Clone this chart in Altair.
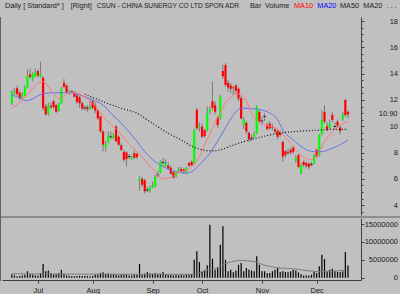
import altair as alt
import pandas as pd

# ---------------- data ----------------
opens = [11.75, 12.55, 12.90, 12.55, 12.20, 12.35, 13.00, 13.95, 13.60, 13.80,
         14.20, 13.80, 13.70, 11.50, 10.95, 11.55, 11.90, 11.60, 11.20, 11.75,
         13.30, 13.10, 12.55, 12.60, 12.55, 12.35, 12.20, 11.75, 11.40, 11.45,
         11.30, 11.90, 11.60, 11.20, 10.75, 9.60, 8.40, 8.80, 9.20, 9.15,
         9.97, 9.20, 8.55, 8.05, 8.00, 7.70, 7.50, 7.95, 7.90, 5.85,
         6.00, 5.90, 5.15, 5.10, 5.35, 5.40, 6.30, 6.45, 7.25, 6.95,
         7.00, 6.85, 6.50, 6.15, 6.60, 6.75, 6.70, 6.50, 7.20, 7.30,
         7.20, 11.25, 9.85, 9.97, 9.70, 9.70, 11.10, 11.90, 11.60, 10.65,
         10.60, 14.20, 14.65, 13.30, 13.10, 12.95, 13.10, 12.85, 12.15, 10.10,
         10.25, 9.50, 9.10, 9.20, 9.47, 11.10, 10.40, 10.75, 10.10, 10.20,
         9.97, 9.75, 9.64, 9.55, 8.80, 8.10, 8.05, 8.20, 8.37, 7.37,
         7.80, 6.45, 7.30, 7.20, 7.15, 7.10, 7.20, 8.20, 7.80, 9.40,
         11.10, 10.00, 9.90, 10.86, 9.98, 10.35, 9.90, 10.55, 12.00, 11.10]
closes = [12.60, 12.65, 12.45, 12.15, 12.40, 13.00, 13.85, 13.75, 13.95, 14.10,
          13.85, 14.00, 11.40, 10.90, 11.60, 11.45, 11.45, 11.10, 11.70, 12.85,
          13.00, 12.60, 12.65, 12.60, 12.25, 11.85, 11.75, 11.35, 11.40, 11.30,
          11.50, 11.40, 11.20, 10.60, 9.60, 8.60, 8.65, 9.30, 9.20, 9.35,
          8.85, 8.60, 8.20, 7.45, 7.50, 7.70, 7.65, 7.60, 7.65, 6.05,
          5.55, 5.05, 5.15, 5.30, 5.50, 6.15, 6.30, 7.30, 7.25, 7.20,
          6.80, 6.40, 6.10, 6.50, 6.75, 6.60, 6.55, 6.80, 7.00, 7.05,
          9.70, 9.85, 10.00, 9.20, 9.25, 11.00, 11.30, 11.40, 11.10, 10.10,
          12.25, 13.80, 13.15, 12.95, 12.85, 12.90, 12.70, 12.10, 10.60, 10.50,
          9.60, 9.00, 9.10, 9.40, 11.50, 10.35, 10.40, 10.75, 9.80, 9.85,
          9.90, 9.60, 9.20, 9.35, 7.70, 7.80, 7.95, 8.00, 8.07, 7.60,
          6.90, 7.05, 7.05, 7.00, 6.90, 7.10, 7.80, 7.70, 9.34, 10.50,
          10.35, 9.75, 10.20, 10.48, 9.98, 10.05, 9.64, 10.90, 10.86, 10.90]
highs = [12.75, 12.90, 13.10, 12.70, 12.60, 13.10, 14.30, 14.40, 14.10, 14.40,
         14.30, 14.90, 13.80, 11.70, 11.80, 11.80, 12.00, 11.70, 11.80, 13.00,
         13.60, 13.20, 12.80, 12.75, 12.70, 12.50, 12.30, 11.90, 11.60, 11.60,
         12.00, 12.10, 11.80, 11.30, 10.80, 9.70, 8.90, 9.60, 9.60, 9.50,
         10.10, 9.30, 8.70, 8.20, 8.10, 7.90, 7.80, 8.15, 8.00, 6.20,
         6.15, 6.00, 5.40, 5.50, 5.80, 6.30, 6.60, 7.40, 7.60, 7.50,
         7.30, 7.00, 6.60, 6.60, 6.90, 6.90, 6.85, 6.90, 7.30, 7.40,
         9.80, 11.40, 10.30, 10.20, 9.80, 11.50, 11.50, 13.40, 11.90, 10.80,
         12.40, 14.70, 14.80, 13.50, 13.30, 13.10, 13.20, 12.95, 12.30, 10.70,
         10.40, 9.60, 9.40, 9.60, 11.60, 11.20, 10.70, 11.00, 10.30, 10.40,
         10.20, 9.90, 9.80, 9.70, 8.90, 8.20, 8.30, 8.40, 8.50, 7.80,
         7.90, 7.20, 7.40, 7.30, 7.25, 7.30, 7.90, 8.30, 9.40, 11.20,
         11.60, 10.30, 10.50, 11.10, 10.30, 10.50, 10.10, 11.10, 12.10, 11.20]
lows = [11.60, 12.40, 12.30, 12.00, 12.10, 12.30, 12.90, 13.60, 13.40, 13.70,
        13.70, 13.70, 11.20, 10.80, 10.80, 11.30, 11.30, 11.00, 11.10, 11.70,
        12.90, 12.50, 12.40, 12.50, 12.20, 11.70, 11.40, 11.20, 11.20, 11.10,
        11.25, 11.30, 11.00, 10.50, 9.50, 8.10, 8.10, 8.70, 9.00, 9.00,
        8.80, 8.50, 8.10, 7.30, 6.95, 7.50, 7.40, 7.50, 7.50, 5.10,
        5.40, 4.90, 5.00, 4.95, 5.30, 5.35, 6.10, 6.40, 7.00, 6.90,
        6.70, 6.30, 6.00, 6.10, 6.50, 6.50, 6.40, 6.40, 6.90, 6.95,
        7.10, 9.70, 9.60, 9.10, 9.10, 9.60, 10.90, 11.20, 10.90, 9.90,
        10.50, 13.60, 13.00, 12.60, 12.50, 12.40, 12.40, 11.90, 10.50, 9.80,
        9.40, 8.80, 8.90, 9.10, 9.40, 10.20, 10.10, 10.40, 9.70, 9.70,
        9.70, 9.40, 9.00, 9.20, 7.30, 7.60, 7.80, 7.85, 7.90, 7.20,
        6.80, 6.30, 6.90, 6.80, 6.70, 6.95, 7.10, 7.60, 7.70, 9.30,
        10.20, 9.60, 9.80, 10.30, 9.80, 9.90, 9.40, 10.40, 10.70, 10.60]
volume_m = [1.0, 0.65, 0.4, 0.5, 0.65, 0.85, 1.8, 1.1, 0.85, 0.65,
            0.65, 1.3, 3.8, 1.8, 2.0, 1.3, 0.85, 1.0, 1.3, 2.2,
            1.1, 0.65, 0.55, 0.5, 0.4, 0.5, 0.55, 0.5, 0.55, 0.5,
            0.4, 0.5, 0.85, 1.0, 1.3, 1.5, 1.0, 1.2, 0.85, 1.0,
            0.85, 0.65, 0.75, 1.0, 0.85, 0.65, 0.65, 0.75, 0.85, 3.8,
            0.85, 1.2, 1.6, 1.2, 1.1, 1.3, 1.1, 1.1, 1.6, 0.85,
            0.85, 0.75, 0.65, 0.85, 0.65, 0.75, 0.65, 0.85, 1.0, 1.0,
            5.0, 7.4, 4.4, 1.6, 2.0, 3.5, 14.8, 5.3, 2.2, 2.7,
            9.2, 14.4, 5.0, 1.8, 2.2, 1.5, 2.0, 3.6, 4.1, 1.8,
            2.7, 2.2, 2.0, 1.8, 6.0, 3.6, 1.8, 1.8, 1.3, 1.3,
            1.8, 2.2, 2.7, 1.6, 1.8, 1.6, 1.5, 1.8, 2.2, 2.0,
            1.5, 1.0, 0.65, 0.65, 0.65, 0.85, 1.6, 1.3, 3.2, 6.4,
            5.2, 1.8, 2.2, 2.5, 1.8, 1.6, 1.6, 1.8, 7.2, 3.4]

# moving averages as drawn on the picture (bar index, value)
ma10_idx = [0, 3, 6, 9, 12, 14, 16, 18, 20, 22, 25, 28, 31, 34, 37, 40, 43, 46, 49, 52,
            55, 58, 61, 64, 67, 70, 72, 74, 76, 78, 80, 82, 84, 86, 88, 90, 92, 94, 96, 98,
            100, 102, 104, 106, 108, 110, 112, 114, 116, 118, 120, 122, 124, 126, 128, 129]
ma10_val = [11.37, 11.8, 12.4, 13.1, 13.4, 13.0, 12.5, 12.1, 12.3, 12.55, 12.55, 12.2, 11.75, 11.0, 10.3, 9.8, 9.1, 8.45, 7.9, 7.2,
            6.5, 6.0, 6.1, 6.5, 6.65, 7.1, 7.7, 8.6, 9.4, 10.3, 11.0, 11.8, 12.2, 12.5, 12.4, 11.9, 11.0, 10.45, 10.25, 10.05,
            9.97, 9.75, 9.35, 8.9, 8.5, 8.0, 7.65, 7.45, 7.55, 8.1, 8.8, 9.35, 9.8, 10.05, 10.3, 10.35]
ma20_idx = [0, 3, 5, 7, 11, 16, 22, 26, 31, 35, 38, 42, 47, 51, 55, 58, 63, 67, 70, 72,
            76, 80, 83, 86, 88, 94, 98, 102, 104, 108, 112, 116, 119, 123, 127, 129]
ma20_val = [12.38, 12.15, 11.95, 12.0, 12.4, 12.55, 12.55, 12.38, 12.0, 11.6, 11.0, 10.23, 9.1, 8.07, 7.3, 6.93, 6.55, 6.43, 6.68, 7.06,
            7.95, 9.2, 10.23, 11.1, 11.37, 11.3, 11.1, 10.5, 9.72, 8.96, 8.33, 8.07, 8.07, 8.33, 8.7, 8.96]
ma50_idx = [28, 35, 42, 48, 53, 60, 65, 70, 72, 76, 80, 84, 89, 94, 99, 104, 109, 114, 119, 124, 129]
ma50_val = [12.45, 11.87, 11.37, 10.99, 10.35, 9.47, 8.96, 8.4, 8.27, 8.12, 8.2, 8.5, 8.83, 9.09, 9.34, 9.51, 9.6, 9.67, 9.72, 9.77, 9.77]
vma_idx = [0, 28, 70, 74, 78, 83, 88, 93, 97, 103, 108, 113, 118, 123, 128]
vma_val_m = [1.1, 1.0, 0.95, 2.0, 2.6, 4.2, 4.8, 4.5, 3.5, 2.7, 2.5, 2.0, 1.7, 1.8, 2.2]

price_ticks = [4, 6, 8, 10, 12, 14, 16, 18]
volume_ticks = [0, 5000000, 10000000, 15000000]
month_names = ["Jul", "Aug", "Sep", "Oct", "Nov", "Dec"]

header_parts = ["Daily [ Standard* ]", "[Right]", "CSUN - CHINA SUNERGY CO LTD SPON ADR", "Bar",
                "Volume", "MA10", "MA20", "MA50", "MA20", ". . ."]

# trading days
holidays = {"2007-07-04", "2007-09-03", "2007-11-22"}
dates = [d for d in pd.bdate_range("2007-06-18", "2007-12-19") if d.strftime("%Y-%m-%d") not in holidays]
n = len(closes)
dates = dates[:n]

df = pd.DataFrame({"i": range(n), "date": dates, "open": opens, "close": closes,
                   "high": highs, "low": lows})
df["vol"] = [v * 1e6 for v in volume_m]
df["zero"] = 0
df["dir"] = ["up" if c > o else ("down" if c < o else "flat") for o, c in zip(opens, closes)]

month_idx = []
for k in range(1, n):
    if dates[k].month != dates[k - 1].month:
        month_idx.append(k)

ma10 = pd.DataFrame({"i": ma10_idx, "v": ma10_val})
ma20 = pd.DataFrame({"i": ma20_idx, "v": ma20_val})
ma50 = pd.DataFrame({"i": ma50_idx, "v": ma50_val})
vma = pd.DataFrame({"i": vma_idx, "v": [v * 1e6 for v in vma_val_m]})
last = pd.DataFrame({"i": [n - 1], "v": [closes[-1]], "t": ["%.2f" % closes[-1]]})

# ---------------- styling ----------------
BG = "#c0c0c0"
FONT = "Liberation Sans"
TXT = "#202020"
AX = "#404040"

label_expr = "".join("datum.value == %d ? '%s' : " % (k, m) for k, m in zip(month_idx, month_names)) + "''"

x_enc = alt.X("i:Q", scale=alt.Scale(domain=[-1.866, 132.09], nice=False, zero=False),
              axis=alt.Axis(values=month_idx, labelExpr=label_expr, orient="bottom", title=None,
                            tickSize=3, tickColor=AX, domainColor=AX, labelFont=FONT,
                            labelFontSize=7.5, labelColor=TXT, labelPadding=3, grid=False,
                            labelFlush=False))


def pscale():
    return alt.Scale(domain=[3.25, 18.31], range=[198, 0], nice=False, zero=False)


def vscale():
    return alt.Scale(domain=[-640000, 16680000], range=[263, 201], nice=False, zero=False)


price_axis = alt.Axis(orient="right", values=price_ticks, title=None, labelAlign="right",
                      tickSize=3, labelPadding=33.5, tickColor=AX, domainColor=AX,
                      labelFont=FONT, labelFontSize=7.5, labelColor=TXT, grid=False,
                      labelBaseline="middle")
minor_axis = alt.Axis(orient="right", values=[v / 2 for v in range(7, 37)], title=None,
                      labels=False, tickSize=2, tickColor=AX, domain=False, grid=False)
vol_axis = alt.Axis(orient="right", values=volume_ticks, title=None, labelAlign="right",
                    tickSize=3, labelPadding=33.5, tickColor=AX, domainColor=AX, format="d",
                    labelFont=FONT, labelFontSize=7.5, labelColor=TXT, grid=False,
                    labelBaseline="middle")

base = alt.Chart(df)

wicks = base.mark_rule(color="#7a7a7a", strokeWidth=1).encode(
    x=x_enc, y=alt.Y("low:Q", scale=pscale(), axis=price_axis), y2="high:Q")

bodies = base.transform_filter("datum.dir != 'flat'").mark_bar(width=2.2).encode(
    x=x_enc, y=alt.Y("open:Q", scale=pscale(), axis=minor_axis), y2="close:Q",
    color=alt.Color("dir:N", scale=alt.Scale(domain=["up", "down"], range=["#00ff00", "#ff0000"]),
                    legend=None))

dojis = base.transform_filter("datum.dir == 'flat'").mark_tick(
    orient="horizontal", size=3, thickness=1, color="#000000").encode(
    x=x_enc, y=alt.Y("close:Q", scale=pscale(), axis=None))


def ma_line(d, color, dash=None):
    kw = dict(color=color, strokeWidth=1, interpolate="monotone")
    if dash:
        kw["strokeDash"] = dash
        kw["strokeWidth"] = 1.2
    return alt.Chart(d).mark_line(**kw).encode(
        x=x_enc, y=alt.Y("v:Q", scale=pscale(), axis=None))


l10 = ma_line(ma10, "#ff7878")
l20 = ma_line(ma20, "#7070e8")
l50 = ma_line(ma50, "#101010", dash=[1, 2])

vbars = base.mark_rule(color="#000000", strokeWidth=1.2).encode(
    x=x_enc, y=alt.Y("vol:Q", scale=vscale(), axis=vol_axis), y2="zero:Q")

vline = alt.Chart(vma).mark_line(color="#7c7c7c", strokeWidth=1, interpolate="monotone").encode(
    x=x_enc, y=alt.Y("v:Q", scale=vscale(), axis=None))

last_lbl = alt.Chart(last).mark_text(align="right", baseline="middle", font=FONT, fontSize=7.5,
                                     color=TXT, x=395.5).encode(
    y=alt.Y("v:Q", scale=pscale(), axis=None), text="t:N")

sep = alt.Chart(pd.DataFrame({"a": [0]})).mark_rule(color="#8c8c8c", strokeWidth=2).encode(
    x=alt.value(-2), x2=alt.value(398), y=alt.value(200))
border = alt.Chart(pd.DataFrame({"a": [0]})).mark_rule(color="#606060", strokeWidth=1).encode(
    x=alt.value(-1.5), y=alt.value(0), y2=alt.value(264))

header_x = [3, 68.7, 94.7, 248, 263, 292, 315.3, 338, 361.3, 384.7]
header_size = [7.3, 7.3, 6.7, 7.3, 7.3, 7.3, 7.3, 7.3, 7.3, 7.3]
header_col = [TXT, TXT, TXT, TXT, TXT, "#ff0000", "#0000ff", TXT, TXT, TXT]
header_layers = []
for t, hx, hs, hc in zip(header_parts, header_x, header_size, header_col):
    header_layers.append(
        alt.Chart(pd.DataFrame({"t": [t]})).mark_text(
            align="left", baseline="middle", font=FONT, fontSize=hs, color=hc,
            x=hx, y=-11.5).encode(text="t:N"))

chart = alt.layer(
    sep, border, wicks, bodies, dojis, l20, l10, l50, vbars, vline, last_lbl, *header_layers
).resolve_scale(y="independent").properties(
    width=359, height=263,
    padding={"left": 2, "top": 17, "right": 39, "bottom": 14},
    autosize=alt.AutoSizeParams(type="none"),
    background=BG,
).configure_view(stroke=None)

chart.save("out.html", embed_options={"renderer": "svg", "actions": False})
